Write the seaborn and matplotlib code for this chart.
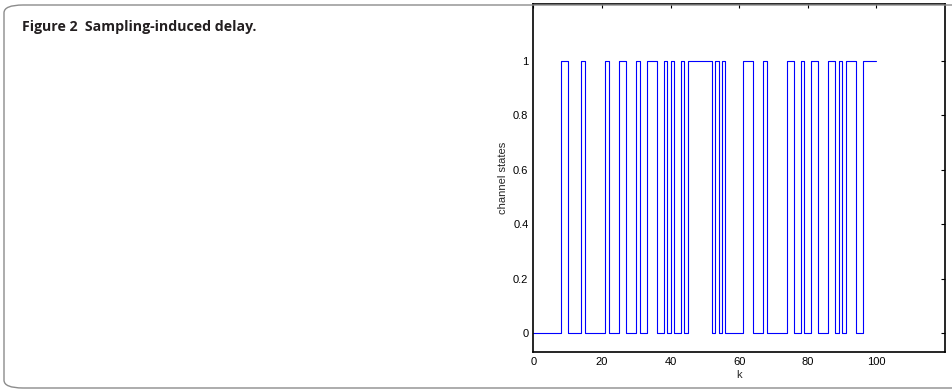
import numpy as np
import pandas as pd
import matplotlib.pyplot as plt
import seaborn as sns
from matplotlib.patches import FancyBboxPatch

# channel state at each sample k (held until the next sample)
k_values = list(range(0, 101))
states = [0, 0, 0, 0, 0, 0, 0, 0, 1, 1,
          0, 0, 0, 0, 1, 0, 0, 0, 0, 0,
          0, 1, 0, 0, 0, 1, 1, 0, 0, 0,
          1, 0, 0, 1, 1, 1, 0, 0, 1, 0,
          1, 0, 0, 1, 0, 1, 1, 1, 1, 1,
          1, 1, 0, 1, 0, 1, 0, 0, 0, 0,
          0, 1, 1, 1, 0, 0, 0, 1, 0, 0,
          0, 0, 0, 0, 1, 1, 0, 0, 1, 0,
          0, 1, 1, 0, 0, 0, 1, 1, 0, 1,
          0, 1, 1, 1, 0, 0, 1, 1, 1, 1,
          1]
x_ticks = [0, 20, 40, 60, 80, 100]
y_ticks = [0, 0.2, 0.4, 0.6, 0.8, 1]
y_ticklabels = ["0", "0.2", "0.4", "0.6", "0.8", "1"]

df = pd.DataFrame({"k": k_values, "state": states})

sns.set_style("white")
plt.rcParams["font.family"] = ["Liberation Sans", "DejaVu Sans"]

fig = plt.figure(figsize=(9.53, 3.92), dpi=100)

# caption frame (runs off the right edge of the picture)
frame = FancyBboxPatch((4 / 953, 4 / 392), 1100 / 953, 383 / 392,
                       boxstyle="round,pad=0,rounding_size=0.02",
                       transform=fig.transFigure, fill=False,
                       edgecolor="#8c8c8c", linewidth=1.0, clip_on=False)
fig.patches.append(frame)
fig.text(22 / 953, 1 - 27 / 392, "Figure 2  Sampling-induced delay.",
         fontsize=10.2, fontweight="bold", family=["Open Sans", "DejaVu Sans"],
         va="center", ha="left", color="#231f20")

ax = fig.add_axes([533.3 / 953, 1 - 352.3 / 392, (945 - 533.3) / 953, (352.3 - 4) / 392])
sns.lineplot(data=df, x="k", y="state", ax=ax, drawstyle="steps-post",
             color="#0000ff", linewidth=0.8, estimator=None)

ax.set_xlim(0, 120)
ax.set_ylim(-0.07, 1.208)
ax.set_xticks(x_ticks)
ax.set_yticks(y_ticks)
ax.set_yticklabels(y_ticklabels)
ax.tick_params(direction="in", length=3, width=0.8, labelsize=8,
               top=True, right=True, colors="black")
ax.set_xlabel("k", fontsize=8, labelpad=2)
ax.set_ylabel("channel states", fontsize=8, labelpad=4)
for s in ax.spines.values():
    s.set_color("black")
    s.set_linewidth(1.2)
    s.set_visible(True)

fig.savefig("out.png", dpi=100)
